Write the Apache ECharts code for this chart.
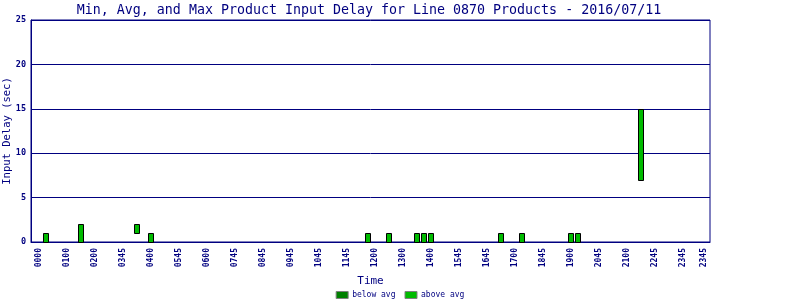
<!DOCTYPE html>
<html><head><meta charset="utf-8">
<script src="https://cdn.jsdelivr.net/npm/echarts@6/dist/echarts.min.js"></script>
<style>html,body{margin:0;padding:0;background:#fff}#c{width:800px;height:300px}</style>
</head><body><div id="c"></div>
<script>
// 15-minute slot index (0 = 00:00) of each bar
const slots = [1, 6, 14, 16, 47, 50, 54, 55, 56, 66, 69, 76, 77, 86];
const minDelay = [0, 0, 1, 0, 0, 0, 0, 0, 0, 0, 0, 0, 0, 7];
const maxDelay = [1, 2, 2, 1, 1, 1, 1, 1, 1, 1, 1, 1, 1, 15];
const tickSlots = [0,4,8,12,16,20,24,28,32,36,40,44,48,52,56,60,64,68,72,76,80,84,88,92,95];
const tickLabels = ["0000","0100","0200","0345","0400","0545","0600","0745","0845","0945","1045","1145","1200","1300","1400","1545","1645","1700","1845","1900","2045","2100","2245","2345","2345"];
const yTicks = [0, 5, 10, 15, 20, 25];

const NAVY = '#000080';
const MONO = '"DejaVu Sans Mono", "Liberation Mono", monospace';
const BELOW = '#008000';
const ABOVE = '#00bb00';

const barData = slots.map((s, i) => [s, minDelay[i], maxDelay[i]]);
const labelMap = {};
tickSlots.forEach((s, i) => { labelMap[s] = tickLabels[i]; });

function renderBar(params, api) {
  const x = api.value(0);
  const lo = api.coord([x, api.value(1)]);
  const hi = api.coord([x, api.value(2)]);
  const w = 5;
  return {
    type: 'rect',
    shape: { x: Math.round(lo[0]) - 2.5, y: Math.round(hi[1]) + 0.5, width: w, height: Math.round(lo[1]) - Math.round(hi[1]) },
    style: { fill: api.visual('color'), stroke: '#000', lineWidth: 1 }
  };
}

const chart = echarts.init(document.getElementById('c'), null, { renderer: 'canvas' });
chart.setOption({
  animation: false,
  backgroundColor: '#fff',
  title: {
    text: 'Min, Avg, and Max Product Input Delay for Line 0870 Products - 2016/07/11',
    left: 369, top: 4, padding: 0, textAlign: 'center',
    textStyle: { fontFamily: MONO, fontSize: 13.3, fontWeight: 'normal', color: NAVY }
  },
  graphic: [{
    type: 'text', x: 7, y: 131, rotation: Math.PI / 2,
    style: { text: 'Input Delay (sec)', fill: NAVY, font: '10.5px ' + MONO, align: 'center', verticalAlign: 'middle' }
  }],
  legend: {
    top: 291, left: 'center', padding: 0,
    itemWidth: 12, itemHeight: 7, itemGap: 9,
    textStyle: { fontFamily: MONO, fontSize: 8, color: NAVY, padding: [0,0,0,-1] },
    data: [
      { name: 'below avg', icon: 'rect', itemStyle: { color: BELOW, borderColor: '#808080', borderWidth: 1 } },
      { name: 'above avg', icon: 'rect', itemStyle: { color: ABOVE, borderColor: '#808080', borderWidth: 1 } }
    ]
  },
  grid: { left: 31, right: 90, top: 20, bottom: 58, outerBoundsMode: 'none', containLabel: false,
    show: true, borderColor: NAVY, borderWidth: 1, backgroundColor: 'transparent' },
  xAxis: {
    type: 'value', min: -1.1, max: 95.9,
    name: 'Time', nameLocation: 'middle', nameGap: 30,
    nameTextStyle: { fontFamily: MONO, fontSize: 11, color: NAVY },
    axisLine: { show: true, onZero: false, lineStyle: { color: NAVY, width: 1 } },
    axisTick: { show: false },
    splitLine: { show: false },
    axisLabel: {
      customValues: tickSlots, rotate: 90, margin: 6,
      fontFamily: MONO, fontSize: 8, color: NAVY, fontWeight: 'bold',
      formatter: v => labelMap[v] || ''
    }
  },
  yAxis: {
    type: 'value', min: 0, max: 25, interval: 5,
    axisLine: { show: true, onZero: false, lineStyle: { color: NAVY, width: 1 } },
    axisTick: { show: false },
    splitLine: { show: true, lineStyle: { color: NAVY, width: 1 } },
    axisLabel: { margin: 5, fontFamily: MONO, fontSize: 8.5, fontWeight: 'bold', color: NAVY,
      customValues: yTicks }
  },
  series: [
    { name: 'below avg', type: 'custom', renderItem: renderBar, itemStyle: { color: BELOW }, data: [] },
    { name: 'above avg', type: 'custom', renderItem: renderBar, itemStyle: { color: ABOVE },
      encode: { x: 0, y: [1, 2] }, data: barData }
  ]
});
</script></body></html>
